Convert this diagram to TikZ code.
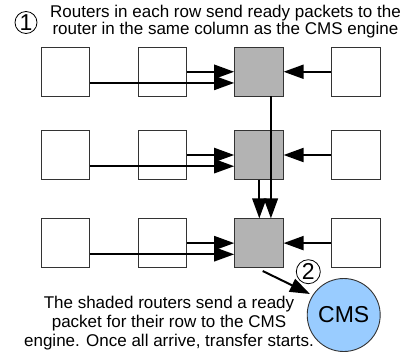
\documentclass[tikz,border=0pt]{standalone}
\usepackage{fontspec}
\setmainfont{Liberation Sans}
\usetikzlibrary{arrows.meta}
\definecolor{shade}{HTML}{B3B3B3}
\definecolor{cmsblue}{HTML}{99CCFF}
\definecolor{edge}{HTML}{333333}
\begin{document}
\begin{tikzpicture}[x=1pt,y=-1pt,
  router/.style={draw=edge,line width=0.9pt,minimum width=48.5pt,minimum height=48.5pt,inner sep=0pt,fill=white},
  hub/.style={router,fill=shade},
  flow/.style={line width=2pt,-{Triangle[length=20pt,width=14pt]}},
  stepnum/.style={circle,draw=black,line width=0.8pt,inner sep=0pt,minimum size=22pt,font=\fontsize{23}{23}\selectfont},
  caption/.style={align=center,inner sep=0pt,anchor=base,font=\fontsize{17}{15.2}\selectfont}
]
\useasboundingbox (0,0) rectangle (409,354);
% routers
\foreach \r/\y in {1/71.75,2/155,3/243.1}{
  \node[router] (a\r) at (65.3,\y) {};
  \node[router] (b\r) at (162.2,\y) {};
  \node[hub]    (c\r) at (258.9,\y) {};
  \node[router] (d\r) at (355.9,\y) {};
}
% row arrows
\foreach \r in {1,2,3}{
  \draw[flow] (b\r.east) -- (c\r.west);
  \draw[flow] ([yshift=-11.2pt]a\r.east) -- ([yshift=-11.2pt]c\r.west);
  \draw[flow] (d\r.west) -- (c\r.east);
}
% vertical arrows
\draw[flow] ([xshift=12pt]c1.south) -- ([xshift=12pt]c3.north);
\draw[flow] ([xshift=0.4pt]c2.south) -- ([xshift=0.4pt]c3.north);
% CMS
\node[circle,draw=edge,line width=0.9pt,fill=cmsblue,minimum size=73pt,inner sep=0pt,font=\fontsize{23}{23}\selectfont] (cms) at (343.7,315) {CMS};
\coordinate (from) at (262.7,271);
\coordinate (tip) at (310,294);
\draw[flow] (from) -- (tip);
% labels
\node[stepnum] (n1) at (26,22.5) {1};
\node[stepnum,minimum size=24pt] (n2) at (308.3,271.7) {2};
\node[caption] (t1) at (225.5,34.5) {Routers in each row send ready packets to the\\router in the same column as the CMS engine};
\node[caption,font=\fontsize{17}{19.3}\selectfont] (t2) at (169,346.7) {The shaded routers send a ready\\packet for their row to the CMS\\engine. Once all arrive, transfer starts.};
\end{tikzpicture}
\end{document}
